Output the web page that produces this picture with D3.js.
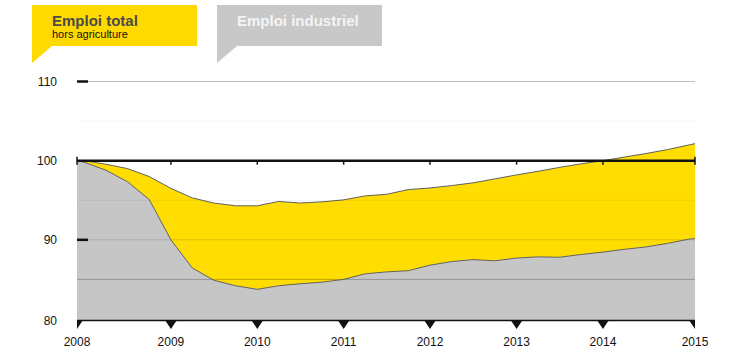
<!DOCTYPE html>
<html>
<head>
<meta charset="utf-8">
<script src="https://cdn.jsdelivr.net/npm/d3@7"></script>
<style>
  html, body { margin: 0; padding: 0; background: #fff; }
  svg { display: block; font-family: "Liberation Sans", Arial, Helvetica, sans-serif; }
</style>
</head>
<body>
<svg id="chart" width="738" height="348"></svg>
<script>
// Observation dates (quarterly, plus the two edge points of the series)
const dates = [
  "2007-12-01",
  "2008-01-01","2008-04-01","2008-07-01","2008-10-01",
  "2009-01-01","2009-04-01","2009-07-01","2009-10-01",
  "2010-01-01","2010-04-01","2010-07-01","2010-10-01",
  "2011-01-01","2011-04-01","2011-07-01","2011-10-01",
  "2012-01-01","2012-04-01","2012-07-01","2012-10-01",
  "2013-01-01","2013-04-01","2013-07-01","2013-10-01",
  "2014-01-01","2014-04-01","2014-07-01","2014-10-01",
  "2015-01-01","2015-01-25"
];
// Emploi total hors agriculture (index, 2008 = 100)
const emploiTotal = [
  100.0,
  100.0, 99.55, 99.0, 98.0,
  96.5, 95.3, 94.65, 94.3,
  94.3, 94.85, 94.65, 94.8,
  95.05, 95.55, 95.75, 96.35,
  96.55, 96.85, 97.2, 97.7,
  98.2, 98.65, 99.15, 99.6,
  100.0, 100.45, 100.9, 101.4,
  102.0, 102.15
];
// Emploi industriel (index, 2008 = 100)
const emploiIndustriel = [
  100.0,
  99.8, 98.8, 97.35, 95.1,
  90.0, 86.45, 84.9, 84.2,
  83.75, 84.2, 84.45, 84.65,
  85.0, 85.7, 85.95, 86.1,
  86.8, 87.25, 87.5, 87.35,
  87.7, 87.85, 87.8, 88.15,
  88.45, 88.8, 89.1, 89.55,
  90.1, 90.15
];
const yTickValues = [80, 90, 100, 110];
const yearLabels = ["2008","2009","2010","2011","2012","2013","2014","2015"];
const legendLabels = ["Emploi total", "hors agriculture", "Emploi industriel"];

const parse = d3.timeParse("%Y-%m-%d");
const data = dates.map((d, i) => ({ date: parse(d), total: emploiTotal[i], ind: emploiIndustriel[i] }));

const svg = d3.select("#chart");
const X0 = 77, X1 = 695;
const x = d3.scaleTime().domain(d3.extent(data, d => d.date)).range([X0, X1]);
const y = d3.scaleLinear().domain([80, 110]).range([319, 81.5]);

const YELLOW = "#ffdd00", GREY = "#c6c6c6";

// Grey area (industrial)
svg.append("path").datum(data)
  .attr("fill", GREY)
  .attr("d", d3.area().x(d => x(d.date)).y0(y(80) + 1.5).y1(d => y(d.ind)));
// Yellow area between industrial and total
svg.append("path").datum(data)
  .attr("fill", YELLOW)
  .attr("d", d3.area().x(d => x(d.date)).y0(d => y(d.ind)).y1(d => y(d.total)));

// Gridlines drawn over areas
const grids = [
  { v: 110, op: 0.25, x0: 88 },
  { v: 105, op: 0.04, x0: X0 },
  { v: 95,  op: 0.06, x0: X0 },
  { v: 90,  op: 0.12, x0: 88 },
  { v: 85,  op: 0.25, x0: X0 }
];
svg.selectAll("line.grid").data(grids).join("line")
  .attr("class", "grid")
  .attr("x1", d => d.x0).attr("x2", X1)
  .attr("y1", d => y(d.v)).attr("y2", d => y(d.v))
  .attr("stroke", "#000").attr("stroke-opacity", d => d.op).attr("stroke-width", 1);

// Series lines
svg.append("path").datum(data)
  .attr("fill", "none").attr("stroke", "#606060").attr("stroke-width", 1)
  .attr("d", d3.line().x(d => x(d.date)).y(d => y(d.ind)));
svg.append("path").datum(data)
  .attr("fill", "none").attr("stroke", "#606060").attr("stroke-width", 1)
  .attr("d", d3.line().x(d => x(d.date)).y(d => y(d.total)));

// Short black tick marks at 110 and 90
svg.selectAll("line.ytick").data([110, 90]).join("line")
  .attr("x1", X0).attr("x2", 88)
  .attr("y1", d => y(d)).attr("y2", d => y(d))
  .attr("stroke", "#111").attr("stroke-width", 2.5);

// Tick positions: edges of the chart (2008, 2015) plus Jan 1st of 2009..2014
const inner = x.ticks(d3.timeYear.every(1))
  .filter(d => d.getFullYear() > 2008 && d.getFullYear() < 2015);
const tickPos = [X0, ...inner.map(d => x(d)), X1];

// Baseline 100
svg.append("line")
  .attr("x1", X0).attr("x2", X1).attr("y1", y(100)).attr("y2", y(100))
  .attr("stroke", "#111").attr("stroke-width", 2.5);
svg.selectAll("line.t100").data(tickPos).join("line")
  .attr("x1", d => d).attr("x2", d => d)
  .attr("y1", (d, i) => (i === 0 || i === tickPos.length - 1) ? y(100) - 4 : y(100))
  .attr("y2", y(100) + 4)
  .attr("stroke", "#111").attr("stroke-width", 1.5);

// Y labels
svg.selectAll("text.ylab").data(yTickValues).join("text")
  .attr("x", 57).attr("y", d => d === 80 ? y(d) + 6 : y(d) + 4.5)
  .attr("text-anchor", "end").attr("font-size", 12).attr("fill", "#111")
  .text(d => d);

// Bottom axis
svg.append("clipPath").attr("id", "axclip").append("rect")
  .attr("x", X0).attr("y", 300).attr("width", X1 - X0).attr("height", 40);
svg.append("line").attr("x1", X0).attr("x2", X1).attr("y1", 320.5).attr("y2", 320.5)
  .attr("stroke", "#111").attr("stroke-width", 1.5);
svg.append("g").attr("clip-path", "url(#axclip)")
  .selectAll("path").data(tickPos).join("path")
  .attr("fill", "#111")
  .attr("d", px => `M${px - 6},320 L${px + 6},320 L${px},329 Z`);
svg.selectAll("text.xlab").data(tickPos).join("text")
  .attr("x", d => d).attr("y", 346)
  .attr("text-anchor", "middle").attr("font-size", 12).attr("fill", "#111")
  .text((d, i) => yearLabels[i]);

// Legend boxes
svg.append("path").attr("fill", "#ffda00")
  .attr("d", "M32,5 L197,5 L197,46 L52,46 L32,63 Z");
svg.append("path").attr("fill", "#c8c8c8")
  .attr("d", "M217,5 L382,5 L382,46 L237,46 L217,63 Z");
svg.append("text").attr("x", 52).attr("y", 26)
  .attr("font-size", 15).attr("font-weight", "bold").attr("fill", "#4a4a4a")
  .text(legendLabels[0]);
svg.append("text").attr("x", 52).attr("y", 38)
  .attr("font-size", 11).attr("fill", "#111")
  .text(legendLabels[1]);
svg.append("text").attr("x", 237).attr("y", 26)
  .attr("font-size", 15).attr("font-weight", "bold").attr("fill", "#f4f4f4")
  .text(legendLabels[2]);
</script>
</body>
</html>
